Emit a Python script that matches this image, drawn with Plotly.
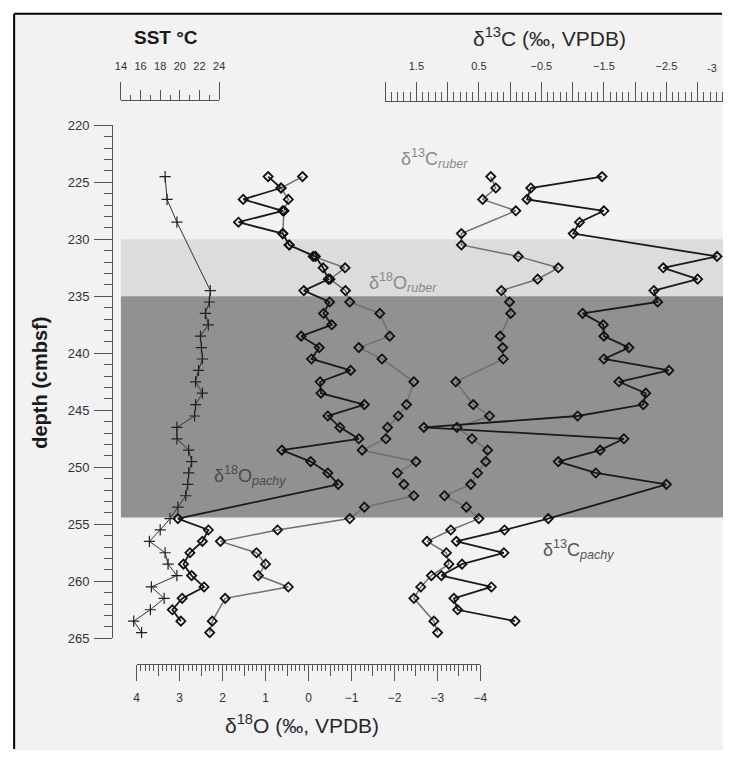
import plotly.graph_objects as go

W, H = 730, 758
FONT = "Liberation Sans, Arial, sans-serif"

# ---------------- data ----------------
sst_depth = [224.5, 226.5, 228.5, 234.5, 235.5, 236.5, 237.5, 238.5, 239.5, 240.5,
             241.5, 242.5, 243.5, 244.5, 245.5, 246.5, 247.5, 248.5, 249.5, 250.5,
             251.5, 252.5, 253.5, 254.5, 255.5, 256.5, 257.5, 258.5, 259.5, 260.5,
             261.5, 262.5, 263.5, 264.5]
sst_values = [18.5, 18.7, 19.7, 23.1, 23.0, 22.6, 22.9, 22.1, 22.2, 22.3,
              21.9, 21.6, 22.3, 21.6, 21.5, 19.7, 19.7, 20.9, 21.2, 20.9,
              20.8, 20.6, 19.8, 19.0, 18.0, 16.9, 18.5, 18.8, 19.7, 17.1,
              18.4, 17.0, 15.3, 16.1]

d18o_pachy_depth = [224.5, 225.5, 226.5, 227.5, 228.5, 229.5, 230.5, 231.5, 232.5, 233.5,
                    234.5, 235.5, 236.5, 237.5, 238.5, 239.5, 240.5, 241.5, 242.5, 243.5,
                    244.5, 245.5, 246.5, 247.5, 248.5, 249.5, 250.5, 251.5,
                    254.5, 255.5, 256.5, 257.5, 258.5, 259.5, 260.5, 261.5, 262.5, 263.5]
d18o_pachy = [0.94, 0.64, 1.52, 0.60, 1.63, 0.60, 0.45, -0.16, -0.34, -0.46,
              0.11, -0.49, -0.35, -0.54, 0.17, -0.25, -0.07, -0.98, -0.27, -0.29,
              -1.30, -0.45, -0.73, -1.17, 0.62, -0.05, -0.45, -0.69,
              3.04, 2.33, 2.47, 2.76, 2.91, 2.72, 2.43, 2.94, 3.17, 2.97]

d18o_ruber_depth = [224.5, 225.5, 226.5, 227.5, 229.5, 230.5, 231.5, 232.5, 233.5, 234.5,
                    235.5, 236.5, 238.5, 239.5, 240.5, 242.5, 244.5, 245.5, 246.5, 247.5,
                    248.5, 249.5, 250.5, 251.5, 252.5, 253.5, 254.5, 255.5, 256.5, 257.5,
                    258.5, 259.5, 260.5, 261.5, 263.5, 264.5]
d18o_ruber = [0.14, 0.64, 0.47, 0.57, 0.60, 0.45, -0.11, -0.85, -0.50, -0.86,
              -0.96, -1.66, -1.89, -1.17, -1.71, -2.45, -2.28, -2.09, -1.84, -1.80,
              -1.25, -2.50, -2.07, -2.22, -2.45, -1.30, -0.96, 0.72, 2.05, 1.21,
              1.00, 1.17, 0.47, 1.94, 2.24, 2.30]

d13c_ruber_depth = d18o_ruber_depth
d13c_ruber = [0.31, 0.23, 0.44, -0.09, 0.78, 0.78, -0.13, -0.77, -0.44, 0.14,
              0.01, -0.01, 0.16, 0.12, 0.11, 0.87, 0.59, 0.33, 0.85, 0.61,
              0.36, 0.39, 0.52, 0.63, 1.05, 0.70, 0.50, 0.95, 1.33, 1.02,
              0.98, 1.26, 1.43, 1.54, 1.22, 1.16]

d13c_pachy_depth = [224.5, 225.5, 226.5, 227.5, 228.5, 229.5, 231.5, 232.5, 233.5,
                    234.5, 235.5, 236.5, 237.5, 238.5, 239.5, 240.5, 241.5, 242.5, 243.5,
                    244.5, 245.5, 246.5, 247.5, 248.5, 249.5, 250.5, 251.5,
                    254.5, 255.5, 256.5, 257.5, 258.5, 259.5, 260.5, 261.5, 262.5, 263.5]
d13c_pachy = [-1.47, -0.33, -0.27, -1.50, -1.11, -1.01, -3.31, -2.45, -3.00,
              -2.30, -2.36, -1.16, -1.49, -1.50, -1.90, -1.50, -2.54, -1.74, -2.17,
              -2.13, -1.08, 1.38, -1.82, -1.44, -0.77, -1.37, -2.50,
              -0.61, 0.09, 0.86, 0.10, 0.77, 1.10, 0.30, 0.90, 0.84, -0.08]

depth_ticks = [220, 225, 230, 235, 240, 245, 250, 255, 260, 265]
d18o_ticks = [4, 3, 2, 1, 0, -1, -2, -3, -4]
d18o_half_ticks = [3.5, 2.5, 1.5, 0.5, -0.5, -1.5, -2.5, -3.5]
d13c_label_ticks = [1.5, 0.5, -0.5, -1.5, -2.5]
d13c_plain_ticks = [2.0, 1.0, 0.0, -1.0, -2.0, -3.0]
sst_ticks = [14, 16, 18, 20, 22, 24]
sst_end_ticks = [14, 24]

light_band = (230, 235)
dark_band = (235, 254.4)


def fx(px):
    return px / W


def fy(py):
    return 1 - py / H


fig = go.Figure()

mk = dict(symbol="diamond-open", size=7, color="#111111", line=dict(width=1.8, color="#111111"))

fig.add_trace(go.Scatter(x=d18o_ruber, y=d18o_ruber_depth, mode="lines+markers",
                         line=dict(color="#707070", width=1.5), marker=mk,
                         xaxis="x", yaxis="y", showlegend=False))
fig.add_trace(go.Scatter(x=d18o_pachy, y=d18o_pachy_depth, mode="lines+markers",
                         line=dict(color="#1a1a1a", width=1.8), marker=mk,
                         xaxis="x", yaxis="y", showlegend=False))
fig.add_trace(go.Scatter(x=d13c_ruber, y=d13c_ruber_depth, mode="lines+markers",
                         line=dict(color="#707070", width=1.5), marker=mk,
                         xaxis="x2", yaxis="y", showlegend=False))
fig.add_trace(go.Scatter(x=d13c_pachy, y=d13c_pachy_depth, mode="lines+markers",
                         line=dict(color="#1a1a1a", width=1.8), marker=mk,
                         xaxis="x2", yaxis="y", showlegend=False))
fig.add_trace(go.Scatter(x=sst_values, y=sst_depth, mode="lines+markers",
                         line=dict(color="#333333", width=1),
                         marker=dict(symbol="cross-thin", size=8, color="#222222",
                                     line=dict(width=1.2, color="#222222")),
                         xaxis="x3", yaxis="y", showlegend=False))
# helper (empty) traces for extra tick sets
for ax in ["x4", "x5", "x6"]:
    fig.add_trace(go.Scatter(x=[None], y=[None], xaxis=ax, yaxis="y",
                             showlegend=False, hoverinfo="skip"))

axc = "#555555"
tfc = "#333333"
d13c_range = [2.0, 0.5 - (730 - 482) / 63.5]

fig.update_layout(
    width=W, height=H, autosize=False,
    margin=dict(l=0, r=0, t=0, b=0, pad=0),
    paper_bgcolor="white", plot_bgcolor="rgba(0,0,0,0)",
    font=dict(family=FONT, color=tfc),
    yaxis=dict(domain=[fy(644), fy(120.7)], range=[265, 220], anchor="free",
               position=fx(108), showline=True, linecolor=axc, linewidth=1,
               ticks="outside", tickvals=depth_ticks, ticklen=18, tickcolor=axc,
               tickwidth=1, tickfont=dict(size=13, color=tfc), ticklabelstandoff=2,
               minor=dict(dtick=1, ticklen=8, tickcolor=axc, ticks="outside"),
               showgrid=False, zeroline=False),
    xaxis=dict(domain=[fx(133), fx(483)], range=[4, -4], anchor="free",
               position=fy(670.7), side="bottom", showline=True, linecolor=axc,
               linewidth=1, ticks="outside", tickvals=d18o_ticks, ticklen=16,
               tickcolor=axc, tickfont=dict(size=12, color=tfc), ticklabelstandoff=6,
               minor=dict(dtick=0.1, tick0=0, ticklen=6, tickcolor=axc, ticks="outside"),
               showgrid=False, zeroline=False),
    xaxis4=dict(domain=[fx(133), fx(483)], range=[4, -4], anchor="free", overlaying="x",
                position=fy(670.7), side="bottom", showline=False, ticks="outside",
                tickvals=d18o_half_ticks, ticklen=11, tickcolor=axc,
                showticklabels=False, showgrid=False, zeroline=False),
    xaxis2=dict(domain=[fx(386), 1], range=d13c_range, anchor="free",
                position=fy(96), side="top", showline=True, linecolor=axc, linewidth=1,
                ticks="outside", tickvals=d13c_label_ticks, ticklen=19,
                tickcolor=axc, tickfont=dict(size=11, color=tfc), ticklabelstandoff=8,
                minor=dict(dtick=0.1, tick0=0, ticklen=9, tickcolor=axc, ticks="outside"),
                showgrid=False, zeroline=False),
    xaxis6=dict(domain=[fx(386), 1], range=d13c_range, anchor="free", overlaying="x2",
                position=fy(96), side="top", showline=False, ticks="outside",
                tickvals=d13c_plain_ticks, ticklen=19, tickcolor=axc,
                showticklabels=False, showgrid=False, zeroline=False),
    xaxis3=dict(domain=[fx(117), fx(217)], range=[14, 24], anchor="free",
                position=fy(95), side="top", showline=True, linecolor=axc, linewidth=1,
                ticks="outside", tickvals=sst_ticks, ticklen=10, tickcolor=axc,
                tickfont=dict(size=11, color=tfc), ticklabelstandoff=16,
                minor=dict(dtick=1, tick0=14, ticklen=5, tickcolor=axc, ticks="outside"),
                showgrid=False, zeroline=False),
    xaxis5=dict(domain=[fx(117), fx(217)], range=[14, 24], anchor="free", overlaying="x3",
                position=fy(95), side="top", showline=False, ticks="outside",
                tickvals=sst_end_ticks, ticklen=18, tickcolor=axc,
                showticklabels=False, showgrid=False, zeroline=False),
)

shapes = [
    dict(type="rect", xref="paper", yref="paper", x0=fx(8.3), x1=1,
         y0=0, y1=fy(6.8), fillcolor="#f2f2f2", line=dict(width=0), layer="below"),
    dict(type="line", xref="paper", yref="paper", x0=fx(8.3), x1=fx(729),
         y0=fy(6.8), y1=fy(6.8), line=dict(color="black", width=2), layer="below"),
    dict(type="line", xref="paper", yref="paper", x0=fx(8.3), x1=fx(8.3),
         y0=fy(757), y1=fy(6.8), line=dict(color="black", width=2), layer="below"),
    dict(type="rect", xref="paper", yref="y", x0=fx(117), x1=1,
         y0=light_band[0], y1=light_band[1], fillcolor="#dcdcdc", line=dict(width=0),
         layer="below"),
    dict(type="rect", xref="paper", yref="y", x0=fx(117), x1=1,
         y0=dark_band[0], y1=dark_band[1], fillcolor="#919191", line=dict(width=0),
         layer="below"),
]
fig.update_layout(shapes=shapes)


def ann(text, px, py, size, color="#222", bold=False, angle=0, xanchor="center"):
    if bold:
        text = "<b>" + text + "</b>"
    return dict(text=text, xref="paper", yref="paper", x=fx(px), y=fy(py),
                xanchor=xanchor, yanchor="middle", showarrow=False, textangle=angle,
                font=dict(family=FONT, size=size, color=color))


annotations = [
    ann("SST °C", 163, 31, 19, "#1a1a1a", bold=True),
    ann("δ<sup>13</sup>C (‰, VPDB)", 553, 31, 21, "#2a2a2a"),
    ann("δ<sup>18</sup>O (‰, VPDB)", 301, 731, 21, "#2a2a2a"),
    ann("depth (cmbsf)", 35, 383, 20, "#1a1a1a", bold=True, angle=-90),
    ann("-3", 726, 62, 11, tfc, xanchor="right"),
    ann("δ<sup>13</sup>C<sub><i>ruber</i></sub>", 436, 155, 18, "#8a8a8a"),
    ann("δ<sup>18</sup>O<sub><i>ruber</i></sub>", 404, 281, 18, "#8a8a8a"),
    ann("δ<sup>18</sup>O<sub><i>pachy</i></sub>", 248, 478, 18, "#4a4a4a"),
    ann("δ<sup>13</sup>C<sub><i>pachy</i></sub>", 583, 553, 18, "#555555"),
]
fig.update_layout(annotations=annotations)

page_fix = (
    "var s=document.createElement('style');"
    "s.textContent='html,body{margin:0!important;padding:0!important;overflow:hidden!important;"
    "background:white;} .plotly-graph-div{position:absolute!important;left:0;top:0;}';"
    "document.head.appendChild(s);"
    "document.querySelectorAll('text').forEach(function(t){"
    "if(!t.textContent || !t.textContent.trim()){t.parentNode.removeChild(t);}});"
)

fig.write_html("out.html", config={"staticPlot": True, "displayModeBar": False},
               post_script=page_fix)
